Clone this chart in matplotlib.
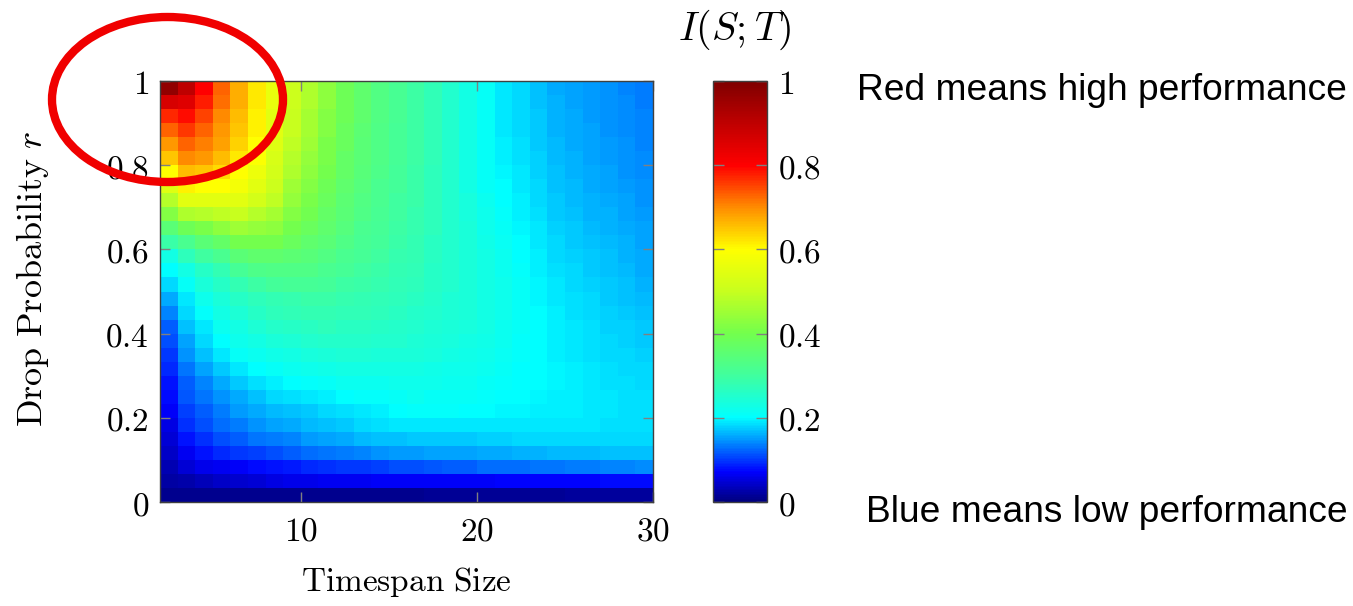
import numpy as np
import matplotlib
matplotlib.use('Agg')
import matplotlib.pyplot as plt
from matplotlib.colors import LinearSegmentedColormap
from matplotlib.patches import Ellipse

plt.rcParams['mathtext.fontset'] = 'cm'

# timespan sizes (one column each) and drop probability bins
timespan_edges = np.arange(2, 31)          # 28 columns, x = 2..30
drop_edges = np.linspace(0, 1, 31)         # 30 rows, r = 0..1

# I(S;T), one list per timespan column, from r=0 (bottom) to r=1 (top)
mi_columns = [
    [0.01, 0.02, 0.03, 0.04, 0.05, 0.055, 0.07, 0.075, 0.08, 0.09, 0.10, 0.11, 0.12, 0.14, 0.16, 0.18, 0.20, 0.23, 0.29, 0.35, 0.42, 0.48, 0.54, 0.60, 0.65, 0.69, 0.73, 0.77, 0.86, 0.97],
    [0.01, 0.025, 0.05, 0.065, 0.08, 0.095, 0.105, 0.115, 0.12, 0.13, 0.145, 0.155, 0.17, 0.18, 0.19, 0.21, 0.23, 0.27, 0.32, 0.39, 0.47, 0.55, 0.61, 0.66, 0.70, 0.73, 0.76, 0.79, 0.85, 0.90],
    [0.01, 0.035, 0.06, 0.08, 0.095, 0.11, 0.12, 0.13, 0.14, 0.155, 0.17, 0.18, 0.19, 0.205, 0.22, 0.24, 0.26, 0.30, 0.35, 0.41, 0.48, 0.55, 0.60, 0.65, 0.69, 0.71, 0.73, 0.75, 0.78, 0.80],
    [0.01, 0.04, 0.065, 0.09, 0.11, 0.125, 0.135, 0.145, 0.16, 0.175, 0.19, 0.20, 0.215, 0.23, 0.24, 0.26, 0.28, 0.32, 0.37, 0.43, 0.49, 0.55, 0.60, 0.63, 0.66, 0.68, 0.69, 0.70, 0.72, 0.73],
    [0.01, 0.045, 0.07, 0.10, 0.12, 0.135, 0.15, 0.16, 0.175, 0.19, 0.21, 0.22, 0.23, 0.245, 0.26, 0.28, 0.31, 0.35, 0.40, 0.45, 0.50, 0.55, 0.58, 0.60, 0.62, 0.64, 0.65, 0.66, 0.67, 0.67],
    [0.01, 0.05, 0.075, 0.105, 0.13, 0.145, 0.16, 0.17, 0.185, 0.20, 0.215, 0.23, 0.245, 0.26, 0.27, 0.295, 0.325, 0.36, 0.40, 0.44, 0.48, 0.52, 0.55, 0.57, 0.59, 0.60, 0.61, 0.61, 0.62, 0.62],
    [0.01, 0.055, 0.08, 0.11, 0.135, 0.155, 0.165, 0.18, 0.195, 0.21, 0.225, 0.24, 0.255, 0.27, 0.28, 0.305, 0.33, 0.36, 0.40, 0.43, 0.46, 0.49, 0.51, 0.52, 0.53, 0.54, 0.55, 0.55, 0.56, 0.56],
    [0.01, 0.06, 0.085, 0.12, 0.14, 0.16, 0.17, 0.185, 0.20, 0.215, 0.23, 0.245, 0.26, 0.275, 0.285, 0.31, 0.33, 0.355, 0.38, 0.40, 0.42, 0.44, 0.45, 0.47, 0.48, 0.49, 0.50, 0.50, 0.51, 0.51],
    [0.01, 0.06, 0.09, 0.125, 0.15, 0.165, 0.175, 0.19, 0.205, 0.22, 0.235, 0.25, 0.265, 0.28, 0.29, 0.31, 0.33, 0.345, 0.36, 0.38, 0.395, 0.41, 0.42, 0.43, 0.44, 0.45, 0.46, 0.46, 0.47, 0.47],
    [0.01, 0.065, 0.095, 0.13, 0.155, 0.17, 0.18, 0.195, 0.21, 0.225, 0.24, 0.255, 0.27, 0.28, 0.29, 0.305, 0.32, 0.335, 0.35, 0.36, 0.37, 0.38, 0.39, 0.40, 0.41, 0.41, 0.42, 0.42, 0.43, 0.43],
    [0.01, 0.065, 0.10, 0.135, 0.16, 0.175, 0.185, 0.20, 0.215, 0.23, 0.245, 0.255, 0.265, 0.275, 0.285, 0.295, 0.31, 0.32, 0.33, 0.34, 0.35, 0.355, 0.36, 0.37, 0.37, 0.38, 0.38, 0.39, 0.39, 0.39],
    [0.01, 0.065, 0.10, 0.14, 0.165, 0.18, 0.19, 0.205, 0.215, 0.23, 0.245, 0.255, 0.265, 0.275, 0.28, 0.29, 0.30, 0.31, 0.315, 0.32, 0.33, 0.335, 0.34, 0.345, 0.35, 0.35, 0.355, 0.36, 0.36, 0.36],
    [0.01, 0.07, 0.105, 0.145, 0.17, 0.185, 0.195, 0.205, 0.215, 0.23, 0.24, 0.25, 0.26, 0.27, 0.275, 0.285, 0.29, 0.30, 0.305, 0.31, 0.315, 0.32, 0.32, 0.325, 0.33, 0.33, 0.33, 0.335, 0.335, 0.335],
    [0.01, 0.07, 0.11, 0.15, 0.17, 0.19, 0.20, 0.21, 0.22, 0.23, 0.24, 0.25, 0.255, 0.265, 0.27, 0.275, 0.28, 0.285, 0.29, 0.295, 0.30, 0.30, 0.305, 0.305, 0.31, 0.31, 0.31, 0.315, 0.315, 0.315],
    [0.01, 0.07, 0.11, 0.15, 0.175, 0.19, 0.205, 0.215, 0.22, 0.23, 0.24, 0.245, 0.25, 0.255, 0.265, 0.27, 0.275, 0.28, 0.28, 0.285, 0.285, 0.29, 0.29, 0.29, 0.295, 0.295, 0.295, 0.295, 0.295, 0.295],
    [0.012, 0.07, 0.115, 0.155, 0.175, 0.19, 0.205, 0.21, 0.22, 0.225, 0.235, 0.24, 0.245, 0.25, 0.255, 0.26, 0.26, 0.265, 0.265, 0.27, 0.27, 0.27, 0.27, 0.27, 0.275, 0.275, 0.275, 0.275, 0.275, 0.275],
    [0.012, 0.07, 0.12, 0.155, 0.175, 0.19, 0.205, 0.21, 0.215, 0.22, 0.23, 0.235, 0.24, 0.245, 0.245, 0.25, 0.25, 0.25, 0.25, 0.25, 0.25, 0.25, 0.25, 0.25, 0.25, 0.25, 0.25, 0.25, 0.25, 0.25],
    [0.013, 0.07, 0.12, 0.155, 0.175, 0.19, 0.203, 0.21, 0.215, 0.22, 0.225, 0.23, 0.235, 0.24, 0.24, 0.24, 0.24, 0.24, 0.24, 0.24, 0.235, 0.235, 0.23, 0.23, 0.23, 0.23, 0.23, 0.23, 0.23, 0.23],
    [0.013, 0.07, 0.125, 0.16, 0.178, 0.19, 0.2, 0.205, 0.21, 0.215, 0.22, 0.225, 0.228, 0.23, 0.23, 0.23, 0.23, 0.228, 0.225, 0.222, 0.22, 0.215, 0.21, 0.21, 0.21, 0.21, 0.21, 0.21, 0.21, 0.21],
    [0.014, 0.072, 0.125, 0.16, 0.178, 0.19, 0.198, 0.203, 0.206, 0.21, 0.213, 0.215, 0.218, 0.22, 0.22, 0.22, 0.218, 0.215, 0.212, 0.21, 0.205, 0.20, 0.20, 0.198, 0.195, 0.195, 0.19, 0.19, 0.19, 0.19],
    [0.014, 0.072, 0.128, 0.162, 0.18, 0.19, 0.196, 0.20, 0.202, 0.203, 0.205, 0.207, 0.208, 0.21, 0.21, 0.208, 0.205, 0.203, 0.2, 0.198, 0.195, 0.192, 0.19, 0.188, 0.186, 0.184, 0.182, 0.18, 0.18, 0.18],
    [0.015, 0.073, 0.13, 0.163, 0.18, 0.19, 0.195, 0.198, 0.20, 0.20, 0.20, 0.20, 0.20, 0.20, 0.198, 0.196, 0.194, 0.192, 0.19, 0.188, 0.185, 0.182, 0.18, 0.178, 0.176, 0.175, 0.173, 0.172, 0.171, 0.17],
    [0.015, 0.073, 0.132, 0.165, 0.18, 0.19, 0.193, 0.195, 0.196, 0.196, 0.195, 0.195, 0.194, 0.193, 0.19, 0.188, 0.186, 0.183, 0.18, 0.178, 0.175, 0.172, 0.17, 0.168, 0.166, 0.165, 0.163, 0.162, 0.161, 0.16],
    [0.016, 0.074, 0.134, 0.166, 0.18, 0.189, 0.192, 0.193, 0.193, 0.192, 0.19, 0.19, 0.189, 0.187, 0.185, 0.183, 0.18, 0.178, 0.175, 0.172, 0.17, 0.167, 0.165, 0.163, 0.161, 0.16, 0.158, 0.157, 0.156, 0.155],
    [0.016, 0.074, 0.136, 0.167, 0.18, 0.188, 0.19, 0.19, 0.19, 0.189, 0.187, 0.186, 0.184, 0.182, 0.18, 0.178, 0.175, 0.172, 0.17, 0.167, 0.164, 0.162, 0.16, 0.158, 0.156, 0.155, 0.153, 0.152, 0.151, 0.15],
    [0.017, 0.075, 0.138, 0.168, 0.18, 0.187, 0.188, 0.188, 0.187, 0.185, 0.183, 0.181, 0.179, 0.177, 0.175, 0.172, 0.17, 0.168, 0.166, 0.164, 0.161, 0.158, 0.155, 0.153, 0.151, 0.15, 0.148, 0.147, 0.146, 0.145],
    [0.017, 0.075, 0.14, 0.169, 0.18, 0.186, 0.187, 0.186, 0.185, 0.183, 0.18, 0.178, 0.176, 0.174, 0.171, 0.168, 0.165, 0.163, 0.161, 0.159, 0.156, 0.153, 0.15, 0.148, 0.146, 0.145, 0.143, 0.142, 0.141, 0.14],
    [0.018, 0.076, 0.142, 0.17, 0.18, 0.185, 0.185, 0.184, 0.182, 0.18, 0.177, 0.174, 0.172, 0.17, 0.166, 0.163, 0.16, 0.158, 0.155, 0.153, 0.15, 0.148, 0.145, 0.143, 0.141, 0.14, 0.138, 0.137, 0.136, 0.135],
]

x_ticks = [10, 20, 30]
y_ticks = [0, 0.2, 0.4, 0.6, 0.8, 1]
y_tick_labels = ['0', '0.2', '0.4', '0.6', '0.8', '1']

# jet-like map with cyan at 0.2, green 0.4, yellow 0.6, red 0.8
cmap = LinearSegmentedColormap.from_list('mi_jet', [
    (0.0, (0.0, 0.0, 0.5)),
    (0.07, (0.0, 0.0, 1.0)),
    (0.2, (0.0, 1.0, 1.0)),
    (0.3, (0.25, 1.0, 0.62)),
    (0.4, (0.45, 1.0, 0.3)),
    (0.5, (0.78, 1.0, 0.12)),
    (0.6, (1.0, 1.0, 0.0)),
    (0.7, (1.0, 0.55, 0.0)),
    (0.8, (1.0, 0.0, 0.0)),
    (1.0, (0.5, 0.0, 0.0)),
])

W, H = 1353, 606
fig = plt.figure(figsize=(W / 100, H / 100), dpi=100)

ax = fig.add_axes([160 / W, 1 - 502 / H, 493 / W, 421 / H])
mi = np.array(mi_columns).T
mesh = ax.pcolormesh(timespan_edges, drop_edges, mi, cmap=cmap, vmin=0, vmax=1, shading='flat')
ax.set_xlim(2, 30)
ax.set_ylim(0, 1)
ax.set_xticks(x_ticks)
ax.set_xticklabels(['$%d$' % t for t in x_ticks])
ax.set_yticks(y_ticks)
ax.set_yticklabels(['$%s$' % s for s in y_tick_labels])
ax.tick_params(direction='in', top=True, right=True, color='0.5', length=7, width=1,
               labelsize=24)
ax.tick_params(axis='x', pad=9)
ax.tick_params(axis='y', pad=8)
for sp in ax.spines.values():
    sp.set_color('0.25')
    sp.set_linewidth(1)
ax.set_xlabel(r'$\mathrm{Timespan\ Size}$', fontsize=24)
ax.set_ylabel(r'$\mathrm{Drop\ Probability}\ r$', fontsize=26)
ax.xaxis.set_label_coords(0.5, -0.15)
ax.yaxis.set_label_coords(-0.222, 0.53)

cax = fig.add_axes([713 / W, 1 - 502 / H, 54 / W, 421 / H])
cb = fig.colorbar(mesh, cax=cax)
cb.set_ticks(y_ticks)
cb.set_ticklabels(['$%s$' % s for s in y_tick_labels])
cax.tick_params(direction='in', left=True, right=True, color='0.5', length=8, width=1,
                labelsize=24, pad=8)
cb.outline.set_edgecolor('0.25')
cb.outline.set_linewidth(1)
fig.text(735 / W, 1 - 30 / H, '$I(S;T)$', fontsize=29, ha='center', va='center')

# annotation on the right
fig.text(857 / W, 1 - 90 / H, 'Red means high performance', fontsize=26.7,
         family='Liberation Sans', ha='left', va='center')
fig.text(866 / W, 1 - 512 / H, 'Blue means low performance', fontsize=26.7,
         family='Liberation Sans', ha='left', va='center')

# red circle round the top left corner
fig.add_artist(Ellipse((167.5 / W, 1 - 99.5 / H), 231 / W, 165 / H, transform=fig.transFigure,
                       fill=False, edgecolor='#f00000', linewidth=6))

fig.savefig('out.png', dpi=100)
